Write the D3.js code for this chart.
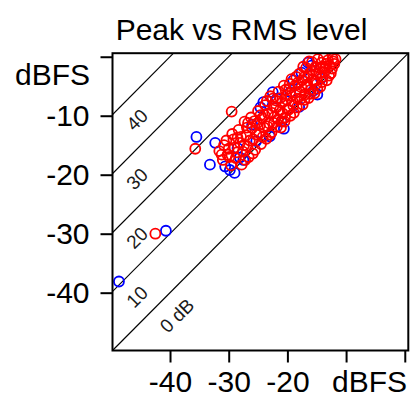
<!DOCTYPE html>
<html>
<head>
<meta charset="utf-8">
<script src="https://cdn.jsdelivr.net/npm/d3@7"></script>
<style>
  html, body { margin: 0; padding: 0; background: #fff; }
  svg { display: block; font-family: "Liberation Sans", Arial, sans-serif; }
  .axis text { font-size: 30px; fill: #000; }
  .axis line { stroke: #000; stroke-width: 2; }
</style>
</head>
<body>
<svg id="chart" width="411" height="397"></svg>
<script>
// Chart texts and ticks.
const title      = 'Peak vs RMS level';
const unitLabel  = 'dBFS';
const tickValues = [ -40, -30, -20, -10, 0 ];
const yLabelled  = [ -40, -30, -20, -10 ];
const xLabelled  = [ -40, -30, -20 ];
const levelDiffs = [ 0, 10, 20, 30, 40 ];
const diffLabels = [ '0 dB', '10', '20', '30', '40' ];

// Measured tracks, [ rms, peak ] in dBFS.
const blueTracks = [
  [-48.7,-38.1],[-40.7,-29.5],[-33.2,-18.3],[-35.5,-13.6],[-32.3,-14.6],[-30.6,-18.6],
  [-29.8,-19.2],[-28.1,-17.1],[-29.0,-19.7],[-20.6,-12.2],[-15.6,-5.8],[-24.1,-7.7],
  [-24.6,-8.6],[-19.0,-4.0],[-17.6,-2.7],[-15.9,-1.5],[-21.8,-7.1],[-27.5,-17.5],
  [-19.5,-6.0],[-14.9,-6.4],[-21.0,-11.0],[-22.5,-6.0],[-16.5,-1.0],[-26.0,-11.5],
  [-23.0,-13.5],[-18.0,-8.5],[-28.5,-15.5],[-14.3,-3.7],[-25.3,-14.3]
];

const redTracks = [
  [-35.7,-15.6],[-29.5,-9.3],[-42.5,-30.0],
  [-31.6,-16.0],[-31.0,-17.5],[-30.4,-14.2],[-30.2,-16.6],[-29.6,-18.4],[-29.4,-13.1],
  [-29.0,-15.4],[-28.8,-17.2],[-28.3,-12.4],[-28.1,-14.6],[-27.8,-18.3],[-27.6,-16.1],
  [-27.3,-11.0],[-27.0,-13.3],[-26.8,-15.2],[-26.6,-17.0],[-26.2,-10.3],[-26.0,-12.1],
  [-25.8,-14.0],[-25.5,-15.8],[-25.2,-11.3],[-25.0,-9.2],[-24.8,-13.0],[-24.5,-14.8],
  [-24.3,-10.4],[-24.0,-12.0],[-23.8,-8.2],[-23.6,-13.9],[-23.3,-9.6],[-23.1,-11.3],
  [-22.9,-6.7],[-22.7,-12.8],[-22.4,-8.4],[-22.2,-10.2],[-22.0,-7.4],[-21.8,-11.9],
  [-21.5,-5.9],[-21.3,-9.1],[-21.1,-12.0],[-20.9,-7.8],[-20.6,-4.9],[-20.4,-10.3],
  [-20.2,-6.6],[-20.0,-8.9],[-19.7,-5.4],[-19.5,-10.0],[-19.3,-3.8],[-19.1,-7.6],
  [-18.9,-9.5],[-18.6,-6.1],[-18.4,-8.6],[-18.2,-4.4],[-18.0,-2.9],[-17.8,-7.2],
  [-17.6,-5.2],[-17.4,-8.1],[-17.2,-3.5],[-17.0,-6.4],[-16.8,-1.9],[-16.6,-4.7],
  [-16.4,-7.0],[-16.2,-2.8],[-16.0,-5.6],[-15.8,-0.9],[-15.6,-3.9],[-15.4,-6.2],
  [-15.2,-1.7],[-15.0,-4.6],[-14.8,-0.4],[-14.6,-2.8],[-14.4,-5.1],[-14.2,-1.0],
  [-14.0,-3.4],[-13.8,-0.2],[-13.6,-2.0],[-13.3,-4.0],[-13.1,-0.6],[-12.8,-1.5],
  [-12.6,-2.8],[-12.3,-0.3],[-12.0,-1.2],[-11.8,-0.4],
  [-30.8,-15.0],[-29.9,-17.0],[-29.2,-14.0],[-28.6,-16.2],[-27.9,-13.6],[-27.4,-15.0],
  [-26.9,-12.0],[-26.4,-14.2],[-25.9,-16.4],[-25.6,-10.9],[-25.3,-13.2],[-24.7,-11.6],
  [-24.2,-13.6],[-23.9,-9.9],[-23.4,-11.8],[-23.0,-13.2],[-22.6,-9.5],[-22.3,-11.2],
  [-21.9,-8.6],[-21.6,-10.6],[-21.2,-7.0],[-20.8,-9.6],[-20.5,-11.0],[-20.1,-7.3],
  [-19.8,-9.0],[-19.4,-6.6],[-19.0,-8.3],[-18.7,-4.9],[-18.3,-7.1],[-17.9,-5.9],
  [-17.5,-4.0],[-17.1,-7.3],[-16.9,-5.1],[-16.5,-3.3],[-16.1,-6.3],[-15.7,-2.3],
  [-15.3,-4.1],[-14.9,-5.4],[-14.5,-1.9],[-14.1,-4.3],[-13.7,-2.6],[-13.4,-1.2],
  [-12.9,-3.2],[-12.4,-2.0],[-12.2,-0.8],[-19.6,-4.6],[-20.3,-5.6],[-21.0,-10.9],
  [-22.5,-7.1],[-23.5,-7.5],[-24.6,-9.9],[-26.7,-11.2],[-28.5,-13.7],[-30.0,-15.6],
  [-31.2,-16.6],[-27.2,-17.5],[-18.5,-3.4],[-17.3,-1.7],[-16.3,-0.8],[-15.1,-2.9],
  [-13.9,-1.6]
];

// Sizes.
const plotLeft = 112.5, plotRight = 408.3, plotTop = 53.2, plotBottom = 350.5;
const domain = [ -49.8, 0.6 ];

const svg = d3.select( '#chart' );

const x = d3.scaleLinear().domain( domain ).range( [ plotLeft, plotRight ] );
const y = d3.scaleLinear().domain( domain ).range( [ plotBottom, plotTop ] );

// Title.
svg.append( 'text' )
  .attr( 'x', 241.5 ).attr( 'y', 40 )
  .attr( 'text-anchor', 'middle' )
  .style( 'font-size', '30px' )
  .text( title );

// Clip for the diagonal lines.
svg.append( 'clipPath' ).attr( 'id', 'plot-clip' )
  .append( 'rect' )
    .attr( 'x', plotLeft ).attr( 'y', plotTop )
    .attr( 'width', plotRight - plotLeft ).attr( 'height', plotBottom - plotTop );

const plot = svg.append( 'g' ).attr( 'clip-path', 'url(#plot-clip)' );

// Constant peak-to-rms lines.
plot.selectAll( '.diag' )
  .data( levelDiffs )
  .enter().append( 'line' )
    .attr( 'class', 'diag' )
    .attr( 'x1', d => x( domain[0] - d ) )
    .attr( 'y1', d => y( domain[0] ) )
    .attr( 'x2', d => x( domain[1] - d ) )
    .attr( 'y2', d => y( domain[1] ) )
    .attr( 'stroke', '#000' )
    .attr( 'stroke-width', 1.2 );

// Line labels, rotated along the lines.
svg.selectAll( '.diag-label' )
  .data( levelDiffs )
  .enter().append( 'text' )
    .attr( 'class', 'diag-label' )
    .attr( 'text-anchor', 'middle' )
    .attr( 'dominant-baseline', 'central' )
    .style( 'font-size', '19px' )
    .attr( 'fill', '#1a1a1a' )
    .attr( 'transform', d => {
      const r = d === 0 ? -38.8 : -45.6;
      return `translate(${x( r )},${y( r + d - 5.1 )}) rotate(-45)`;
    } )
    .text( ( d, i ) => diffLabels[i] );

// Points: blue first, red on top.
const dot = ( data, colour ) => plot.append( 'g' )
  .selectAll( 'circle' )
  .data( data )
  .enter().append( 'circle' )
    .attr( 'cx', d => x( d[0] ) )
    .attr( 'cy', d => y( d[1] ) )
    .attr( 'r', 5 )
    .attr( 'fill', 'none' )
    .attr( 'stroke', colour )
    .attr( 'stroke-width', 1.8 );

dot( blueTracks, '#0000ff' );
dot( redTracks, '#ff0000' );

// Frame.
svg.append( 'rect' )
  .attr( 'x', plotLeft ).attr( 'y', plotTop )
  .attr( 'width', plotRight - plotLeft ).attr( 'height', plotBottom - plotTop )
  .attr( 'fill', 'none' )
  .attr( 'stroke', '#000' )
  .attr( 'stroke-width', 2 );

// Axes.
const yAxis = svg.append( 'g' )
  .attr( 'class', 'axis' )
  .attr( 'transform', `translate(${plotLeft},0)` )
  .call( d3.axisLeft( y ).tickValues( tickValues ).tickSize( 12 ).tickPadding( 11 )
    .tickFormat( d => yLabelled.includes( d ) ? String( d ) : '' ) );
yAxis.select( '.domain' ).remove();

const xAxis = svg.append( 'g' )
  .attr( 'class', 'axis' )
  .attr( 'transform', `translate(0,${plotBottom})` )
  .call( d3.axisBottom( x ).tickValues( tickValues ).tickSize( 12 ).tickPadding( 8 )
    .tickFormat( d => xLabelled.includes( d ) ? String( d ) : '' ) );
xAxis.select( '.domain' ).remove();

svg.selectAll( '.axis text' ).attr( 'font-family', null );

// Unit labels.
svg.append( 'text' )
  .attr( 'x', 90 ).attr( 'y', 85 )
  .attr( 'text-anchor', 'end' )
  .style( 'font-size', '30px' )
  .text( unitLabel );

svg.append( 'text' )
  .attr( 'x', 407 ).attr( 'y', 392 )
  .attr( 'text-anchor', 'end' )
  .style( 'font-size', '30px' )
  .text( unitLabel );
</script>
</body>
</html>
